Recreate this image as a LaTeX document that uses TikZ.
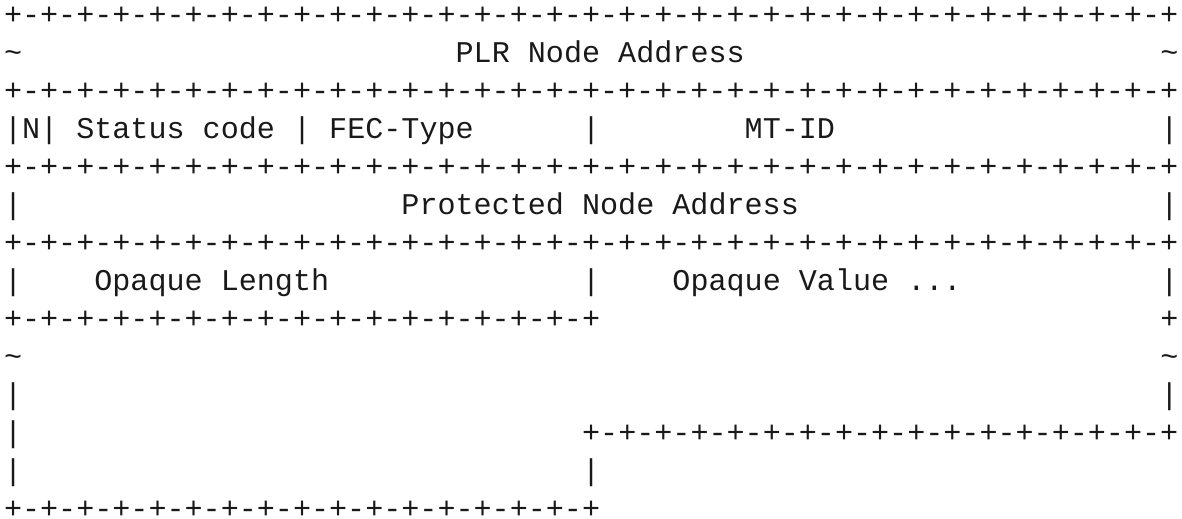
\documentclass[tikz,border=0pt]{standalone}
\usepackage{fontspec}
\newfontfamily\asciifont{Liberation Mono}
\def\eightch{+-+-+-+-}
\newcommand\halfrow{\eightch\eightch\eightch\eightch+}
\newcommand\fullrow{\eightch\eightch\eightch\eightch\eightch\eightch\eightch\eightch+}
\begin{document}
\begin{tikzpicture}[x=1pt,y=1pt,
  seg/.style={anchor=base west, inner sep=0pt, outer sep=0pt, text=black!90,
    font=\asciifont\fontsize{22.58pt}{22.58pt}\selectfont}]
\useasboundingbox (0,0) rectangle (886.5,-388.5);
\def\cw{13.55}\def\lh{28.55}
\newcommand\asciiseg[4]{\node[seg] (#1) at ({3+#2*\cw},{-18-#3*\lh}) {#4};}
% row 0
\asciiseg{r0}{0}{0}{\fullrow}
% row 1
\asciiseg{r1a}{0}{1}{\textasciitilde}
\asciiseg{r1b}{25}{1}{PLR Node Address}
\asciiseg{r1c}{64}{1}{\textasciitilde}
% row 2
\asciiseg{r2}{0}{2}{\fullrow}
% row 3
\asciiseg{r3a}{0}{3}{|N|}
\asciiseg{r3b}{4}{3}{Status code}
\asciiseg{r3c}{16}{3}{|}
\asciiseg{r3d}{18}{3}{FEC-Type}
\asciiseg{r3e}{32}{3}{|}
\asciiseg{r3f}{41}{3}{MT-ID}
\asciiseg{r3g}{64}{3}{|}
% row 4
\asciiseg{r4}{0}{4}{\fullrow}
% row 5
\asciiseg{r5a}{0}{5}{|}
\asciiseg{r5b}{22}{5}{Protected Node Address}
\asciiseg{r5c}{64}{5}{|}
% row 6
\asciiseg{r6}{0}{6}{\fullrow}
% row 7
\asciiseg{r7a}{0}{7}{|}
\asciiseg{r7b}{5}{7}{Opaque Length}
\asciiseg{r7c}{32}{7}{|}
\asciiseg{r7d}{37}{7}{Opaque Value ...}
\asciiseg{r7e}{64}{7}{|}
% row 8
\asciiseg{r8a}{0}{8}{\halfrow}
\asciiseg{r8b}{64}{8}{+}
% row 9
\asciiseg{r9a}{0}{9}{\textasciitilde}
\asciiseg{r9b}{64}{9}{\textasciitilde}
% row 10
\asciiseg{r10a}{0}{10}{|}
\asciiseg{r10b}{64}{10}{|}
% row 11
\asciiseg{r11a}{0}{11}{|}
\asciiseg{r11b}{32}{11}{\halfrow}
% row 12
\asciiseg{r12a}{0}{12}{|}
\asciiseg{r12b}{32}{12}{|}
% row 13
\asciiseg{r13}{0}{13}{\halfrow}
\end{tikzpicture}
\end{document}
